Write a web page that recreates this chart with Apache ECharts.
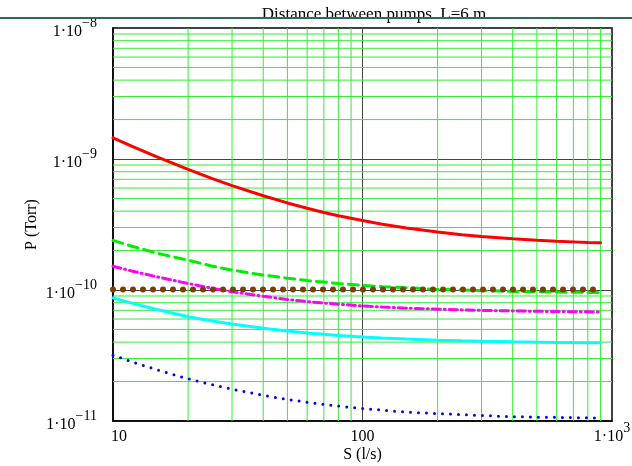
<!DOCTYPE html>
<html>
<head>
<meta charset="utf-8">
<script src="https://cdn.jsdelivr.net/npm/echarts@6/dist/echarts.min.js"></script>
<style>
html, body { margin: 0; padding: 0; background: #fff; }
#chart { width: 632px; height: 466px; }
</style>
</head>
<body>
<div id="chart"></div>
<script>
// pumping speed S (l/s)
var speeds = [10, 12, 15, 20, 25, 30, 40, 50, 60, 70, 80, 100, 120, 150, 200, 250, 300, 400, 500, 600, 700, 800, 900];
// pressure curves (Torr)
var pRed = [1.45e-9, 1.244e-9, 1.038e-9, 8.33e-10, 7.09e-10, 6.27e-10, 5.24e-10, 4.62e-10, 4.21e-10, 3.91e-10, 3.69e-10, 3.39e-10, 3.18e-10, 2.97e-10, 2.77e-10, 2.64e-10, 2.56e-10, 2.46e-10, 2.40e-10, 2.36e-10, 2.33e-10, 2.30e-10, 2.29e-10];
var pGreen = [2.39e-10, 2.15e-10, 1.91e-10, 1.69e-10, 1.52e-10, 1.42e-10, 1.30e-10, 1.23e-10, 1.18e-10, 1.15e-10, 1.12e-10, 1.085e-10, 1.06e-10, 1.04e-10, 1.01e-10, 1.00e-10, 9.9e-11, 9.76e-11, 9.69e-11, 9.64e-11, 9.61e-11, 9.58e-11, 9.56e-11];
var pMagenta = [1.52e-10, 1.39e-10, 1.26e-10, 1.12e-10, 1.03e-10, 9.7e-11, 8.95e-11, 8.47e-11, 8.15e-11, 7.95e-11, 7.8e-11, 7.55e-11, 7.41e-11, 7.27e-11, 7.14e-11, 7.05e-11, 6.99e-11, 6.92e-11, 6.88e-11, 6.85e-11, 6.83e-11, 6.81e-11, 6.79e-11];
var pBrown = [1.01e-10, 1.01e-10, 1.01e-10, 1.01e-10, 1.01e-10, 1.01e-10, 1.01e-10, 1.01e-10, 1.01e-10, 1.01e-10, 1.01e-10, 1.01e-10, 1.01e-10, 1.01e-10, 1.01e-10, 1.01e-10, 1.01e-10, 1.01e-10, 1.01e-10, 1.01e-10, 1.01e-10, 1.01e-10, 1.01e-10];
var pCyan = [8.7e-11, 7.9e-11, 7.1e-11, 6.25e-11, 5.8e-11, 5.5e-11, 5.1e-11, 4.86e-11, 4.7e-11, 4.59e-11, 4.5e-11, 4.38e-11, 4.3e-11, 4.22e-11, 4.14e-11, 4.09e-11, 4.06e-11, 4.02e-11, 4.0e-11, 3.98e-11, 3.97e-11, 3.96e-11, 3.95e-11];
var pBlue = [3.18e-11, 2.82e-11, 2.46e-11, 2.1e-11, 1.89e-11, 1.75e-11, 1.57e-11, 1.46e-11, 1.39e-11, 1.34e-11, 1.30e-11, 1.245e-11, 1.21e-11, 1.17e-11, 1.14e-11, 1.12e-11, 1.10e-11, 1.08e-11, 1.07e-11, 1.066e-11, 1.061e-11, 1.057e-11, 1.054e-11];
// minor grid lines
var minorX = [20, 30, 40, 50, 60, 70, 80, 90, 200, 300, 400, 500, 600, 700, 800, 900];
var minorY = [2e-11, 3e-11, 4e-11, 5e-11, 6e-11, 7e-11, 8e-11, 9e-11,
              2e-10, 3e-10, 4e-10, 5e-10, 6e-10, 7e-10, 8e-10, 9e-10,
              2e-9, 3e-9, 4e-9, 5e-9, 6e-9, 7e-9, 8e-9, 9e-9];
var xRange = [10, 1000];
var yRange = [1e-11, 1e-8];

var FONT = 'Liberation Serif';

function pairs(ys) {
  return speeds.map(function (s, i) { return [s, ys[i]]; });
}

function curve(name, ys, color, width, type) {
  return {
    name: name,
    type: 'line',
    data: pairs(ys),
    symbol: 'none',
    z: 5,
    lineStyle: { color: color, width: width, type: type, cap: 'round' }
  };
}

function gridSeries(data) {
  return {
    type: 'line',
    data: data,
    symbol: 'none',
    silent: true,
    z: 1,
    lineStyle: { color: '#33ee33', width: 1 }
  };
}

var series = [];
minorX.forEach(function (v) { series.push(gridSeries([[v, yRange[0]], [v, yRange[1]]])); });
minorY.forEach(function (v) { series.push(gridSeries([[xRange[0], v], [xRange[1], v]])); });
series.push(
  curve('red', pRed, '#ff0000', 3, 'solid'),
  curve('green', pGreen, '#00ee00', 3, [10, 6]),
  curve('magenta', pMagenta, '#ff00ff', 3, [8, 4, 1, 4]),
  curve('brown', pBrown, '#7f3f00', 6, [0, 10]),
  curve('cyan', pCyan, '#00ffff', 3, 'solid'),
  curve('blue', pBlue, '#0000ff', 3, [0, 8])
);

var yRich = {
  sup: { fontFamily: FONT, fontSize: 14, color: '#000', padding: [0, 0, 10, 0], verticalAlign: 'bottom' },
  base: { fontFamily: FONT, fontSize: 16, color: '#000', verticalAlign: 'bottom' }
};
var xRich = {
  sup: { fontFamily: FONT, fontSize: 14, color: '#000', padding: [0, 0, 10, 0], lineHeight: 14, verticalAlign: 'bottom' },
  base: { fontFamily: FONT, fontSize: 16, color: '#000', lineHeight: 24, verticalAlign: 'bottom' },
  first: { fontFamily: FONT, fontSize: 16, color: '#000', lineHeight: 24, verticalAlign: 'bottom', padding: [0, 0, 0, 12] }
};

var myChart = echarts.init(document.getElementById('chart'));
myChart.setOption({
  animation: false,
  backgroundColor: '#fff',
  title: {
    text: 'Distance between pumps  L=6 m',
    left: 369,
    textAlign: 'center',
    top: 1,
    textStyle: { fontFamily: FONT, fontSize: 17, fontWeight: 'normal', color: '#000' }
  },
  graphic: [{
    type: 'line',
    shape: { x1: 0, y1: 18, x2: 632, y2: 18 },
    style: { stroke: '#2b6b57', lineWidth: 2 },
    z: 10
  }],
  grid: {
    left: 113, right: 20, top: 28, bottom: 45,
    containLabel: false,
    outerBoundsMode: 'none',
    show: true, borderColor: '#000', borderWidth: 1.5, backgroundColor: 'transparent'
  },
  xAxis: {
    type: 'log',
    logBase: 10,
    min: xRange[0],
    max: xRange[1],
    name: 'S (l/s)',
    nameLocation: 'middle',
    nameGap: 26,
    nameMoveOverlap: false,
    nameTextStyle: { fontFamily: FONT, fontSize: 16, color: '#000' },
    axisLine: { show: true, lineStyle: { color: '#000', width: 1.5 } },
    axisTick: { show: false },
    splitLine: { show: true, lineStyle: { color: '#444', width: 1 } },
    axisLabel: {
      margin: 0,
      fontFamily: FONT, fontSize: 16, color: '#000',
      formatter: function (v) {
        var e = Math.round(Math.log(v) / Math.LN10);
        if (e === 1) return '{first|10}';
        if (e === 2) return '{base|100}';
        return '{base|1·10}{sup|' + e + '}';
      },
      rich: xRich
    }
  },
  yAxis: {
    type: 'log',
    logBase: 10,
    min: yRange[0],
    max: yRange[1],
    name: 'P (Torr)',
    nameLocation: 'middle',
    nameRotate: 90,
    nameGap: 73,
    nameMoveOverlap: false,
    nameTextStyle: { fontFamily: FONT, fontSize: 16, color: '#000' },
    axisLine: { show: true, lineStyle: { color: '#000', width: 1.5 } },
    axisTick: { show: false },
    splitLine: { show: true, lineStyle: { color: '#444', width: 1 } },
    axisLabel: {
      margin: 16,
      fontFamily: FONT, fontSize: 16, color: '#000',
      formatter: function (v) {
        var e = Math.round(Math.log(v) / Math.LN10);
        return '{base|1·10}{sup|−' + Math.abs(e) + '}';
      },
      rich: yRich
    }
  },
  series: series
});
</script>
</body>
</html>
